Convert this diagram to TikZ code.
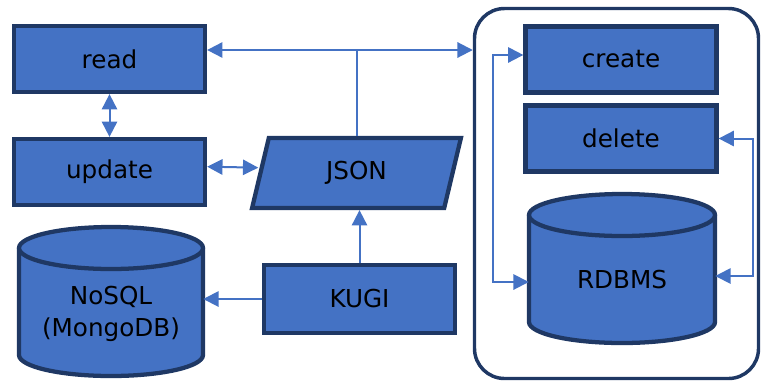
\documentclass[tikz,border=0pt]{standalone}
\usepackage{fontspec}
\setmainfont{DejaVu Sans}
\usetikzlibrary{arrows.meta,shapes.geometric}
\definecolor{boxblue}{HTML}{4472C4}
\definecolor{edgeblue}{HTML}{1F3864}
\newcommand\drawcyl[5]{%
  \filldraw[cylstyle] (#1-#2,#3) -- (#1-#2,#4) arc[start angle=180,end angle=0,x radius=#2,y radius=#5] -- (#1+#2,#3) arc[start angle=0,end angle=-180,x radius=#2,y radius=#5] -- cycle;
  \draw[cylstyle] (#1-#2,#3) arc[start angle=180,end angle=0,x radius=#2,y radius=#5];}
\begin{document}
\begin{tikzpicture}[x=0.75pt,y=-0.75pt,
  txt/.style={font=\fontsize{18.5}{24}\selectfont, text=black, align=center},
  box/.style={txt, draw=edgeblue, fill=boxblue, line width=3.2pt, minimum width=143.25pt, minimum height=49.5pt, inner sep=0pt},
  cylstyle/.style={draw=edgeblue, fill=boxblue, line width=3.2pt},
  group/.style={draw=edgeblue, line width=2.6pt, rounded corners=22.5pt, minimum width=213pt, minimum height=277.5pt, inner sep=0pt},
  link/.style={draw=boxblue, line width=1.5pt},
  conn/.style={link, -{Triangle[length=11.5pt,width=11.5pt]}},
  conntwo/.style={link, {Triangle[length=11.5pt,width=11.5pt]}-{Triangle[length=11.5pt,width=11.5pt]}}]
\useasboundingbox (0,0) rectangle (762,383);
% containers and shapes
\node[group] (grp) at (616.5,193.5) {};
\node[box] (read) at (109.5,59) {read};
\node[box] (update) at (109.5,172) {update};
\node[box] (create) at (621,59.5) {create};
\node[box] (delete) at (621,138.5) {delete};
\node[box, minimum height=51pt] (kugi) at (359.5,299) {KUGI};
\node[txt, trapezium, trapezium stretches=true, trapezium left angle=76, trapezium right angle=104,
      draw=edgeblue, fill=boxblue, line width=3.2pt, minimum width=156.75pt, minimum height=52.5pt, inner sep=0pt] (json) at (356.5,173) {JSON};
\drawcyl{111}{92}{248}{355}{21}
\node[txt, minimum width=138pt] (nosql) at (111,314) {NoSQL\\(MongoDB)};
\drawcyl{622}{93}{215}{322}{21}
\node[txt, minimum width=139.5pt] (rdbms) at (622,280) {RDBMS};
% connectors
\coordinate (jtop) at (355,50);
\coordinate (lx) at (493,0);
\coordinate (rx) at (753,0);
\coordinate (createin) at ([yshift=3.4pt]create.west);
\coordinate (rdbmsinl) at ([yshift=-1.5pt]rdbms.west);
\coordinate (rdbmsinr) at ([yshift=3pt]rdbms.east);
\coordinate (updateout) at ([yshift=4pt]update.east);
\coordinate (jsonin) at ([yshift=4pt]json.west);
\draw[conntwo] (read.east |- jtop) -- (grp.west |- jtop);
\draw[link] (json.north) -- (json.north |- jtop);
\draw[conntwo] (read.south) -- (update.north);
\draw[conntwo] (updateout) -- (jsonin);
\draw[conn] (kugi.north) -- (kugi.north |- json.south);
\draw[conn] (kugi.west) -- (kugi.west -| nosql.east);
\draw[conntwo] (createin) -- (lx |- createin) -- (lx |- rdbmsinl) -- (rdbmsinl);
\draw[conntwo] (delete.east) -- (rx |- delete.east) -- (rx |- rdbmsinr) -- (rdbmsinr);
\end{tikzpicture}
\end{document}
